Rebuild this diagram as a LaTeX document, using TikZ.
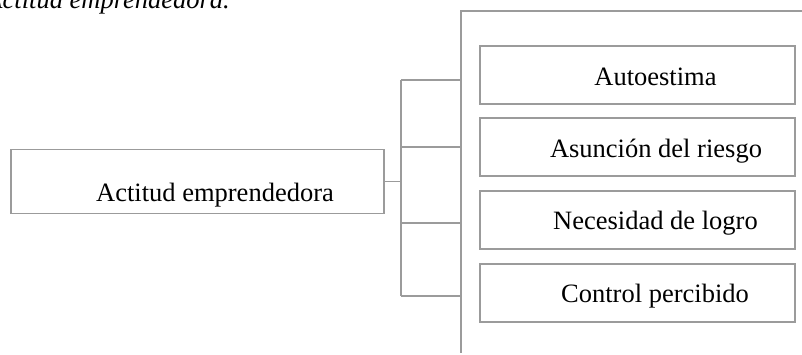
\documentclass[tikz,border=0pt]{standalone}
\usepackage{fontspec}
\setmainfont{Liberation Serif}
\definecolor{linegray}{RGB}{155,155,155}
\begin{document}
\begin{tikzpicture}[x=1pt,y=-1pt,
  box/.style={draw=linegray, line width=1.1pt, inner sep=0pt},
  leftbox/.style={box, minimum width=373pt, minimum height=64pt},
  rightbox/.style={box, minimum width=315pt, minimum height=58pt},
  lbl/.style={inner sep=0pt, anchor=base, font=\fontsize{26.5}{30}\selectfont},
  conn/.style={draw=linegray, line width=1.1pt}]
\useasboundingbox (0,0) rectangle (802,354);
% caption (cut off at the left)
\node[inner sep=0pt, anchor=base east, font=\fontsize{26.5}{30}\selectfont\itshape] (cap) at (230,8) {Actitud emprendedora.};
% boxes
\node[leftbox] (l) at (197.5,181.5) {};
\node[rightbox] (b1) at (637.5,75) {};
\node[rightbox] (b2) at (637.5,147) {};
\node[rightbox] (b3) at (637.5,220) {};
\node[rightbox] (b4) at (637.5,293) {};
% labels
\node[lbl] (tl) at (215,201.5) {Actitud emprendedora};
\node[lbl] (t1) at (655.5,85) {Autoestima};
\node[lbl] (t2) at (656,157) {Asunción del riesgo};
\node[lbl] (t3) at (655.5,229.5) {Necesidad de logro};
\node[lbl] (t4) at (655,302.5) {Control percibido};
% connector coordinates
\coordinate (j) at (401,181.5);
\coordinate (v1) at (401,80);
\coordinate (v2) at (401,147);
\coordinate (v3) at (401,223);
\coordinate (v4) at (401,296);
\coordinate (h1) at (461,80);
\coordinate (h2) at (461,147);
\coordinate (h3) at (461,223);
\coordinate (h4) at (461,296);
\coordinate (top) at (461,11);
\coordinate (topr) at (802,11);
\coordinate (bot) at (461,353);
% connectors
\draw[conn] (l.east) -- (j);
\draw[conn] (v1) -- (v4);
\draw[conn] (v1) -- (h1);
\draw[conn] (v2) -- (h2);
\draw[conn] (v3) -- (h3);
\draw[conn] (v4) -- (h4);
\draw[conn] (topr) -- (top) -- (bot);
\end{tikzpicture}
\end{document}
